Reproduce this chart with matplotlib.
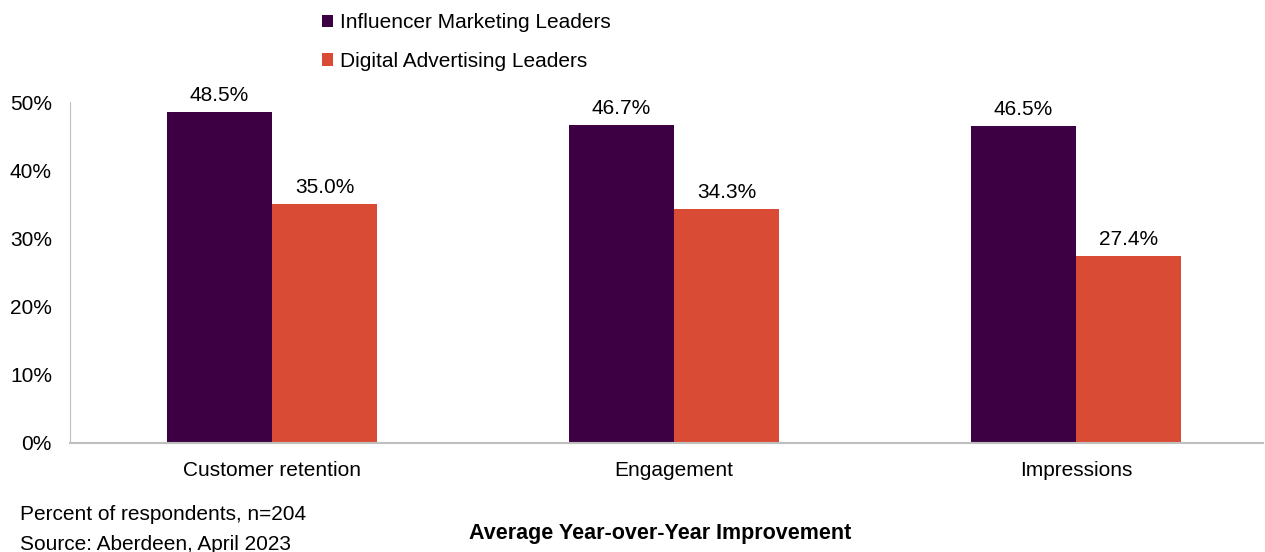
import numpy as np
from matplotlib import pyplot as plt

categories = ['Customer retention', 'Engagement', 'Impressions']
influencer = [48.5, 46.7, 46.5]
digital = [35.0, 34.3, 27.4]
series_names = ['Influencer Marketing Leaders', 'Digital Advertising Leaders']

purple = '#3d0042'
orange = '#d94b35'
fs = 15

plt.rcParams['font.family'] = ['Liberation Sans', 'DejaVu Sans']

fig = plt.figure(figsize=(12.65, 5.52), dpi=100)
ax = fig.add_axes([70 / 1265, 1 - 443 / 552, 1193 / 1265, 341 / 552])

x = np.arange(len(categories))
w = 0.261
b1 = ax.bar(x - w / 2, influencer, w, color=purple, label=series_names[0])
b2 = ax.bar(x + w / 2, digital, w, color=orange, label=series_names[1])

for bars, vals in [(b1, influencer), (b2, digital)]:
    for r, v in zip(bars, vals):
        ax.annotate(f'{v:.1f}%', (r.get_x() + r.get_width() / 2, v),
                    xytext=(0, 5), textcoords='offset points',
                    ha='center', va='bottom', fontsize=fs)

ax.set_xlim(-0.5025, 2.465)
ax.set_ylim(0, 50)
ax.set_yticks(range(0, 51, 10))
ax.set_yticklabels([f'{t}%' for t in range(0, 51, 10)], fontsize=fs)
ax.set_xticks(x)
ax.set_xticklabels(categories, fontsize=fs)
ax.tick_params(axis='both', length=0)
ax.tick_params(axis='y', pad=13)
ax.tick_params(axis='x', pad=13)
for s in ['top', 'right']:
    ax.spines[s].set_visible(False)
ax.spines['left'].set_color('#bfbfbf')
ax.spines['bottom'].set_color('#bfbfbf')
ax.spines['bottom'].set_linewidth(1.5)

# legend
fig.legend(handles=[b1, b2], labels=series_names, loc='upper left',
           bbox_to_anchor=(303 / 1265, 1.01), frameon=False, fontsize=fs,
           handlelength=0.55, handleheight=0.55, handletextpad=0.35,
           labelspacing=0.95)

fig.text(20 / 1265, 1 - 515 / 552, 'Percent of respondents, n=204',
         fontsize=fs, va='center', ha='left')
fig.text(20 / 1265, 1 - 544 / 552, 'Source: Aberdeen, April 2023',
         fontsize=fs, va='center', ha='left')
fig.text(660 / 1265, 1 - 533 / 552, 'Average Year-over-Year Improvement',
         fontsize=15.5, fontweight='bold', va='center', ha='center')

fig.savefig('out.png', dpi=100)
